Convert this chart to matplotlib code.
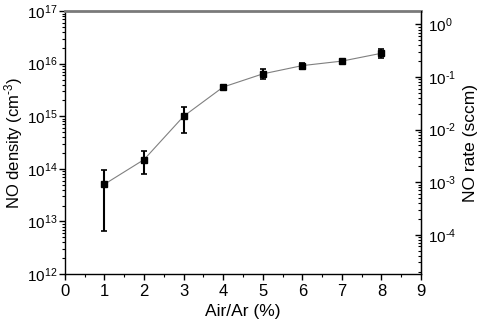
import matplotlib
matplotlib.use("Agg")
import matplotlib.pyplot as plt
import numpy as np
from matplotlib.ticker import LogLocator, MultipleLocator, NullFormatter, FuncFormatter

plt.rcParams["font.family"] = ["Liberation Sans", "DejaVu Sans"]
plt.rcParams["mathtext.fontset"] = "custom"
plt.rcParams["mathtext.rm"] = "Liberation Sans"
plt.rcParams["mathtext.it"] = "Liberation Sans"

# data
air_ar = [1, 2, 3, 4, 5, 6, 7, 8]
no_density = [5.1e13, 1.5e14, 1.0e15, 3.6e15, 6.4e15, 9.2e15, 1.12e16, 1.58e16]
err_high = [9.4e13, 2.2e14, 1.5e15, 3.6e15, 7.8e15, 1.05e16, 1.12e16, 1.87e16]
err_low = [6.5e12, 7.9e13, 4.8e14, 3.6e15, 5.2e15, 8.1e15, 1.12e16, 1.27e16]

# right axis = left axis scaled by this factor
RATE_FACTOR = 10 ** -16.747

yerr = [
    [d - lo for d, lo in zip(no_density, err_low)],
    [hi - d for d, hi in zip(no_density, err_high)],
]


def pow_label(v, pos):
    e = int(round(np.log10(v)))
    if e < 0:
        return r"$10^{\text{-}%d}$" % -e
    return r"$10^{%d}$" % e


fig = plt.figure(figsize=(4.84, 3.27), dpi=100)
ax = fig.add_axes([0.134, 0.162, 0.736, 0.804])

ax.plot(air_ar, no_density, color="#808080", lw=0.8, zorder=1)
ax.errorbar(air_ar, no_density, yerr=yerr, fmt="s", color="black",
            ms=5, elinewidth=1.5, capsize=2.5, capthick=1.2, zorder=2)

ax.set_yscale("log")
ax.set_ylim(1e12, 1e17)
ax.set_xlim(0, 9)
ax.xaxis.set_major_locator(MultipleLocator(1))
ax.xaxis.set_minor_locator(MultipleLocator(0.5))
ax.yaxis.set_major_locator(LogLocator(base=10, numticks=10))
ax.yaxis.set_major_formatter(FuncFormatter(pow_label))
ax.yaxis.set_minor_locator(LogLocator(base=10, subs=range(2, 10), numticks=10))
ax.yaxis.set_minor_formatter(NullFormatter())

ax.tick_params(axis="both", which="major", direction="out", length=4,
               width=1, labelsize=12)
ax.tick_params(axis="y", which="major", labelsize=11, pad=1.5)
ax.tick_params(axis="both", which="minor", direction="out", length=2, width=0.8)
ax.tick_params(axis="y", right=False)
ax.tick_params(axis="x", top=False, which="both")

ax.set_xlabel("Air/Ar (%)", fontsize=12.5)
ax.set_ylabel(r"NO density (cm$^{\text{-}3}$)", fontsize=12)
ax.xaxis.set_label_coords(0.5, -0.115)
ax.yaxis.set_label_coords(-0.112, 0.5)

for side in ["left", "bottom", "right"]:
    ax.spines[side].set_color("black")
    ax.spines[side].set_linewidth(1)
ax.spines["top"].set_color("#7a7a7a")
ax.spines["top"].set_linewidth(2)

ax2 = ax.twinx()
ax2.set_yscale("log")
ax2.set_ylim(1e12 * RATE_FACTOR, 1e17 * RATE_FACTOR)
ax2.yaxis.set_major_locator(LogLocator(base=10, numticks=10))
ax2.yaxis.set_major_formatter(FuncFormatter(pow_label))
ax2.yaxis.set_minor_locator(LogLocator(base=10, subs=range(2, 10), numticks=10))
ax2.yaxis.set_minor_formatter(NullFormatter())
ax2.tick_params(axis="y", which="major", direction="in", length=4, width=1,
                labelsize=11, pad=5)
ax2.tick_params(axis="y", which="minor", direction="in", length=2, width=0.8)
ax2.set_ylabel("NO rate (sccm)", fontsize=12.5)
ax2.yaxis.set_label_coords(1.118, 0.5)
ax2.spines["top"].set_visible(False)
ax2.spines["left"].set_visible(False)
ax2.spines["bottom"].set_visible(False)

fig.savefig("out.png", dpi=100)
